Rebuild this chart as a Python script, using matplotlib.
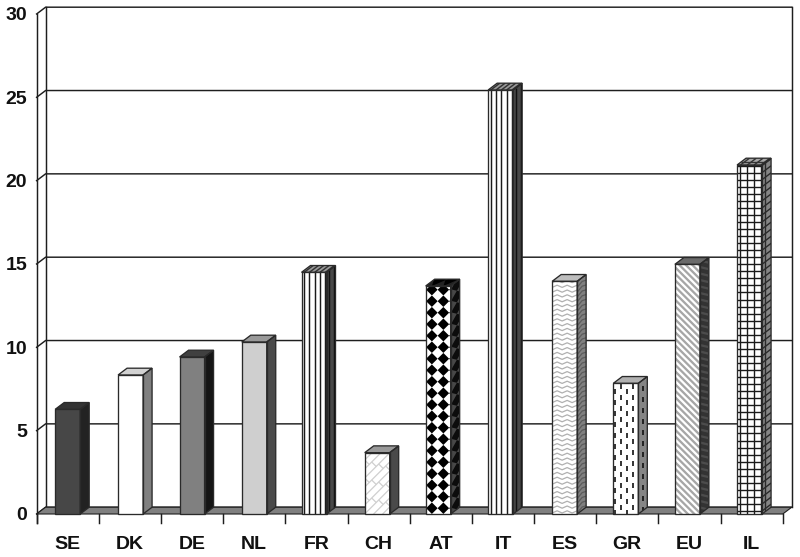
import numpy as np
import matplotlib
matplotlib.use("Agg")
import matplotlib.pyplot as plt
from matplotlib.collections import LineCollection, PolyCollection
from matplotlib.patches import Polygon
from matplotlib.transforms import Affine2D

categories = ["SE", "DK", "DE", "NL", "FR", "CH", "AT", "IT", "ES", "GR", "EU", "IL"]
values = [6.28, 8.34, 9.42, 10.32, 14.5, 3.68, 13.68, 25.44, 13.96, 7.84, 14.98, 20.94]
y_ticks = [0, 5, 10, 15, 20, 25, 30]

# layout (pixels)
W, H = 800, 557
X0, Y0 = 36.6, 514.0
PX_CAT = 62.18
PX_VAL = 16.667
DX, DY = 9.0, 6.8
BAR_W = 25.0
bar_shift = [0, 0.7, 0, 0, -2.4, -1.4, -2.6, -2.3, -0.5, -1.5, -2.1, -2.1]
sx, sy = 1 / PX_CAT, 1 / PX_VAL
ddx, ddy = DX * sx, DY * sy
DARK = "#1e1e1e"

plt.rcParams["font.family"] = ["Liberation Sans", "DejaVu Sans"]
fig = plt.figure(figsize=(W / 100, H / 100), dpi=100, facecolor="white")
ax = fig.add_axes([0, 0, 1, 1])
ax.set_xlim(-X0 * sx, (W - X0) * sx)
ax.set_ylim((Y0 - H) * sy, Y0 * sy)
ax.axis("off")


# ---- texture generators: local coordinates in pixels on a face
def stripes(w, h, period=5.3, start=2.6):
    return [[(x, 0), (x, h)] for x in np.arange(start, w + 1, period)]

def dashes(w, h):
    segs = []
    start = 1.9 if w > DX else 4.5
    for i, x in enumerate(np.arange(start, w - 0.5, 5.8)):
        off = 0 if i % 2 == 0 else 5.5
        segs += [[(x, y + off), (x, y + off + 5.0)] for y in np.arange(-12, h, 11.0)]
    return segs

def grid(w, h):
    return ([[(x, 0), (x, h)] for x in np.arange(3.4, w + 1, 6.8)] +
            [[(0, y), (w, y)] for y in np.arange(3.0, h + 1, 7.05)])

def diag(w, h, period=6.5):
    return [[(0, c), (w, c - w)] for c in np.arange(0, h + w + period, period)]

def zigzag(w, h, period=10.0, step=4.8, amp=2.2):
    segs = []
    for y in np.arange(1, h, step):
        xs = np.arange(-period, w + period, period / 2)
        pts = [(x, y + (amp if i % 2 else 0)) for i, x in enumerate(xs)]
        segs.append(pts)
    return segs

def bricks(w, h):
    segs = []
    s = 9.0
    for k in range(-12, 12):
        c = k * s
        segs.append([(0, c), (w, c + w)])
        for j in range(-6, 12):
            a = j * 14 + (k % 2) * 7
            segs.append([(a, a + c), (a + s / 2, a + c - s / 2)])
    return segs

def diamonds(w, h, p=11.5):
    polys = []
    r = p / 2
    for x in np.arange(6.2, w + p, p):
        for y in np.arange(5.8, h + p, p):
            polys.append([(x - r, y), (x, y + r), (x + r, y), (x, y - r)])
    return polys


styles = [
    dict(front=("#474747", None, None), side=("#222222", None, None), top=("#333333", None, None)),
    dict(front=("#ffffff", None, None), side=("#808080", None, None), top=("#d2d2d2", None, None)),
    dict(front=("#808080", None, None), side=("#151515", None, None), top=("#404040", None, None)),
    dict(front=("#cfcfcf", None, None), side=("#4a4a4a", None, None), top=("#999999", None, None)),
    dict(front=("#ffffff", stripes, "#1a1a1a"), side=("#484848", stripes, "#111111"), top=("#9a9a9a", stripes, "#333333")),
    dict(front=("#ffffff", bricks, "#cfcfcf"), side=("#4a4a4a", None, None), top=("#999999", None, None)),
    dict(front=("#ffffff", diamonds, "#000000"), side=("#484848", diamonds, "#0c0c0c"), top=("#222222", diamonds, "#000000")),
    dict(front=("#ffffff", stripes, "#1a1a1a"), side=("#484848", stripes, "#111111"), top=("#9a9a9a", stripes, "#333333")),
    dict(front=("#ffffff", zigzag, "#b0b0b0"), side=("#808080", zigzag, "#5c5c5c"), top=("#bdbdbd", None, None)),
    dict(front=("#ffffff", dashes, "#111111"), side=("#858585", dashes, "#111111"), top=("#b0b0b0", None, None)),
    dict(front=("#ffffff", diag, "#a6a6a6"), side=("#333333", diag, "#4c4c4c"), top=("#6a6a6a", None, None)),
    dict(front=("#ffffff", grid, "#1a1a1a"), side=("#858585", grid, "#2a2a2a"), top=("#a8a8a8", grid, "#333333")),
]

TEX_LW = {zigzag: 0.9, bricks: 0.9, diag: 1.65, dashes: 1.2, grid: 1.0, stripes: 1.05}


def draw_face(origin, u, v, w, h, style, z):
    """Face with local pixel size w*h mapped to data by origin + a*u + b*v."""
    color, tex, tcol = style
    tr = Affine2D(np.array([[u[0], v[0], origin[0]],
                            [u[1], v[1], origin[1]],
                            [0, 0, 1]])) + ax.transData
    poly = Polygon([(0, 0), (w, 0), (w, h), (0, h)], closed=True, transform=tr,
                   facecolor=color, edgecolor="none", zorder=z)
    ax.add_patch(poly)
    if tex is not None:
        if tex is diamonds:
            art = PolyCollection(tex(w, h), facecolors=tcol, edgecolors="none",
                                 transform=tr, zorder=z + 0.1)
        else:
            art = LineCollection(tex(w, h), colors=tcol, linewidths=TEX_LW[tex],
                                 transform=tr, zorder=z + 0.1)
        ax.add_collection(art, autolim=False)
        art.set_clip_path(poly)
    edge = Polygon([(0, 0), (w, 0), (w, h), (0, h)], closed=True, transform=tr,
                   facecolor="none", edgecolor="#2a2a2a", linewidth=0.95, zorder=z + 0.2)
    ax.add_patch(edge)


# ---- walls, grid and floor
for t in y_ticks:
    ax.plot([0, ddx, 12 + ddx], [t, t + ddy, t + ddy], color=DARK, lw=1.05, zorder=1,
            solid_joinstyle="miter")
    ax.text(-9.6 * sx, t - 1.9 * sy, str(t), ha="right", va="center", fontsize=14,
            fontweight="bold", color="#111111", zorder=5)
ax.plot([ddx, ddx], [ddy, 30 + ddy], color=DARK, lw=1.05, zorder=1)
ax.plot([12 + ddx, 12 + ddx], [ddy, 30 + ddy], color=DARK, lw=1.05, zorder=1)
ax.plot([0, 0], [-9 * sy, 30], color=DARK, lw=1.05, zorder=1)
ax.add_patch(Polygon([(0, 0), (12, 0), (12 + ddx, ddy), (ddx, ddy)], closed=True,
                     facecolor="#808080", edgecolor=DARK, linewidth=0.8, zorder=2))
for i in range(13):
    ax.plot([i, i], [0, -9 * sy], color=DARK, lw=1.05, zorder=2)

# ---- bars
for i, (name, val, st) in enumerate(zip(categories, values, styles)):
    left = i + 0.5 + bar_shift[i] * sx - BAR_W / 2 * sx
    right = left + BAR_W * sx
    hpx = val * PX_VAL
    z = 3 + i * 0.01
    draw_face((right, 0), (sx, DY / DX * sy), (0, sy), DX, hpx, st["side"], z)
    draw_face((left, val), (sx, 0), (DX / DY * sx, sy), BAR_W, DY, st["top"], z)
    draw_face((left, 0), (sx, 0), (0, sy), BAR_W, hpx, st["front"], z + 0.003)
    ax.text(i + 0.5, -30.3 * sy, name, ha="center", va="center", fontsize=14,
            fontweight="bold", color="#111111", zorder=5)

fig.savefig("out.png", dpi=100, facecolor="white")
